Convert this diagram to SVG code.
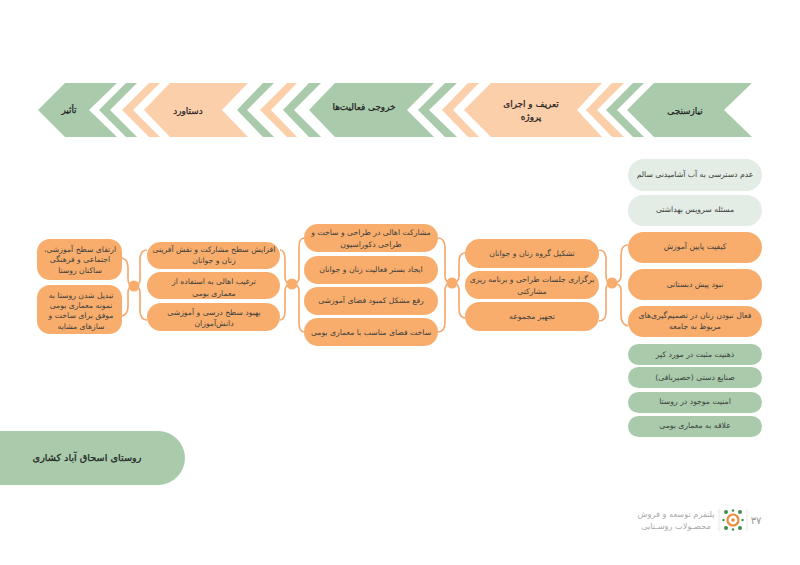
<svg xmlns="http://www.w3.org/2000/svg" width="800" height="565" viewBox="0 0 800 565">
<style>
text{font-family:"DejaVu Sans",sans-serif;text-anchor:middle;direction:rtl;fill:#3c3f3c;font-size:7.7px}
.g{fill:#a9cbab}.p{fill:#fccfab}.o{fill:#f9ad6d}.l{fill:#e4ece6}
.h{font-size:8.9px;fill:#222;stroke:#222;stroke-width:.25}
#connectors path{fill:none;stroke:#f4ab73;stroke-width:1.7}
#connectors circle{fill:#f9ad6d}
.f{fill:#a9a9a9;font-size:8.2px}
</style>
<rect width="800" height="565" fill="#fff"/>
<g id="band">
<g id="n-needs"><polygon class="g" points="752,83 654,83 627,110 654,137 752,137 724,110"/><text class="h" x="685" y="114">نیازسنجی</text></g>
<polygon class="g" points="644,83 633,83 606,110 633,137 644,137 617,110"/>
<polygon class="p" points="624,83 612,83 586,110 612,137 624,137 597,110"/>
<g id="n-project"><polygon class="p" points="602,83 491,83 464,110 491,137 602,137 577,110"/><text class="h" x="531" y="107">تعریف و اجرای</text><text class="h" x="531" y="120">پروژه</text></g>
<polygon class="p" points="479,83 468,83 442,110 468,137 479,137 453,110"/>
<polygon class="g" points="457,83 445,83 418,110 445,137 457,137 429,110"/>
<g id="n-outputs"><polygon class="g" points="434,83 335,83 309,110 335,137 434,137 407,110"/><text class="h" x="364" y="110">خروجی فعالیت‌ها</text></g>
<polygon class="g" points="321,83 309,83 283,110 309,137 321,137 294,110"/>
<polygon class="p" points="297,83 287,83 260,110 287,137 297,137 271,110"/>
<polygon class="g" points="274,83 263,83 237,110 263,137 274,137 247,110"/>
<g id="n-outcome"><polygon class="p" points="248,83 170,83 144,110 170,137 248,137 222,110"/><text class="h" x="188" y="114">دستاورد</text></g>
<polygon class="p" points="160,83 149,83 122,110 149,137 160,137 133,110"/>
<polygon class="g" points="137,83 126,83 99,110 126,137 137,137 110,110"/>
<g id="n-impact"><polygon class="g" points="117,83 65,83 38,110 65,137 117,137 89,110"/><text class="h" x="69" y="113">تأثیر</text></g>
</g>
<g id="connectors">
<path d="M628,245C622,245 621,250 621,258V276C621,281 618,283 612,283C618,283 621,285 621,290V315C621,322 623,325 628,326"/>
<path d="M599,250C604,250 606,254 606,260V276C606,281 608,283 612,283C608,283 606,285 606,290V312C606,318 604,321 599,321"/>
<path d="M465,253C460,253 459,257 459,262V276C459,281 456,283 452,283C456,283 459,285 459,290V308C459,314 460,318 465,318"/>
<path d="M438,238C443,238 445,242 445,248V276C445,281 448,283 452,283C448,283 445,285 445,290V322C445,328 443,332 438,332"/>
<path d="M304,238C300,238 299,242 299,248V277C299,282 296,284 292,284C296,284 299,286 299,291V322C299,328 300,332 304,332"/>
<path d="M280,250C284,250 285,254 285,260V277C285,282 288,284 292,284C288,284 285,286 285,291V310C285,316 284,320 280,320"/>
<path d="M147,250C142,250 140,254 140,260V279C140,284 138,286 134,286C138,286 140,288 140,293V310C140,316 142,320 147,320"/>
<path d="M122,258C126,259 128,262 128,268V279C128,284 130,286 134,286C130,286 128,288 128,293V306C128,312 126,315 122,316"/>
<circle cx="612" cy="283" r="5.5"/><circle cx="452" cy="283" r="5.5"/><circle cx="292" cy="284" r="5.5"/><circle cx="134" cy="286" r="5.5"/>
</g>
<g id="c1">
<g id="a1"><rect class="l" x="628" y="159" width="134" height="32" rx="16"/><text x="695" y="177">عدم دسترسی به آب آشامیدنی سالم</text></g>
<g id="a2"><rect class="l" x="628" y="195" width="134" height="31" rx="15.5"/><text x="695" y="212">مسئله سرویس بهداشتی</text></g>
<g id="a3"><rect class="o" x="628" y="232" width="134" height="31" rx="15.5"/><text x="695" y="249">کیفیت پایین آموزش</text></g>
<g id="a4"><rect class="o" x="628" y="269" width="134" height="31" rx="15.5"/><text x="695" y="287">نبود پیش دبستانی</text></g>
<g id="a5"><rect class="o" x="628" y="306" width="134" height="31" rx="15.5"/><text x="695" y="318">فعال نبودن زنان در تصمیم‌گیری‌های</text><text x="695" y="329">مربوط به جامعه</text></g>
<g id="a6"><rect class="g" x="628" y="344" width="134" height="21" rx="10.5"/><text x="695" y="357">ذهنیت مثبت در مورد کپر</text></g>
<g id="a7"><rect class="g" x="628" y="367" width="134" height="21" rx="10.5"/><text x="695" y="380">صنایع دستی (حصیربافی)</text></g>
<g id="a8"><rect class="g" x="628" y="392" width="134" height="21" rx="10.5"/><text x="695" y="404">امنیت موجود در روستا</text></g>
<g id="a9"><rect class="g" x="628" y="416" width="134" height="21" rx="10.5"/><text x="695" y="428">علاقه به معماری بومی</text></g>
</g>
<g id="c2">
<g id="b1"><rect class="o" x="465" y="239" width="134" height="29" rx="14.5"/><text x="532" y="256">تشکیل گروه زنان و جوانان</text></g>
<g id="b2"><rect class="o" x="465" y="271" width="134" height="28" rx="14"/><text x="532" y="282">برگزاری جلسات طراحی و برنامه ریزی</text><text x="532" y="294">مشارکتی</text></g>
<g id="b3"><rect class="o" x="465" y="302" width="134" height="29" rx="14.5"/><text x="532" y="319">تجهیز مجموعه</text></g>
</g>
<g id="c3">
<g id="d1"><rect class="o" x="304" y="224" width="134" height="28" rx="14"/><text x="371" y="235">مشارکت اهالی در طراحی و ساخت و</text><text x="371" y="247">طراحی دکوراسیون</text></g>
<g id="d2"><rect class="o" x="304" y="256" width="134" height="28" rx="14"/><text x="371" y="272">ایجاد بستر فعالیت زنان و جوانان</text></g>
<g id="d3"><rect class="o" x="304" y="287" width="134" height="28" rx="14"/><text x="371" y="303">رفع مشکل کمبود فضای آموزشی</text></g>
<g id="d4"><rect class="o" x="304" y="318" width="134" height="28" rx="14"/><text x="371" y="335">ساخت فضای مناسب با معماری بومی</text></g>
</g>
<g id="c4">
<g id="e1"><rect class="o" x="147" y="242" width="133" height="27" rx="13.5"/><text x="214" y="252">افزایش سطح مشارکت و نقش آفرینی</text><text x="214" y="263">زنان و جوانان</text></g>
<g id="e2"><rect class="o" x="147" y="272" width="133" height="27" rx="13.5"/><text x="214" y="284">ترغیب اهالی به استفاده از</text><text x="214" y="296">معماری بومی</text></g>
<g id="e3"><rect class="o" x="147" y="303" width="133" height="28" rx="14"/><text x="214" y="315">بهبود سطح درسی و آموزشی</text><text x="214" y="326">دانش‌آموزان</text></g>
</g>
<g id="c5">
<g id="f1"><rect class="o" x="37" y="239" width="85" height="41" rx="13"/><text x="80" y="252">ارتقای سطح آموزشی،</text><text x="80" y="262">اجتماعی و فرهنگی</text><text x="80" y="273">ساکنان روستا</text></g>
<g id="f2"><rect class="o" x="37" y="285" width="85" height="49" rx="13"/><text x="81" y="298">تبدیل شدن روستا به</text><text x="81" y="308">نمونه معماری بومی</text><text x="81" y="318">موفق برای ساخت و</text><text x="81" y="329">سازهای مشابه</text></g>
</g>
<g id="title"><path class="g" d="M0,431H158A27,27 0 0 1 158,485H0Z"/><text class="h" style="font-size:9.7px" x="87" y="461">روستای اسحاق آباد کشاری</text></g>
<g id="footer">
<text class="f" x="676" y="517">پلتفرم توسعه و فروش</text>
<text class="f" x="676" y="529">محصـولات روسـتایی</text>
<path d="M719,509V531M747,509V531" stroke="#ddd" stroke-width=".7"/>
<circle cx="733" cy="520" r="5.5" fill="none" stroke="#ee8a3c" stroke-width="2.2"/><circle cx="733" cy="520" r="1.8" fill="#ee8a3c"/>
<g fill="#3f8f4c"><circle cx="726" cy="512" r="2"/><circle cx="740" cy="512" r="2"/><circle cx="726" cy="528" r="2"/><circle cx="740" cy="528" r="2"/><circle cx="733" cy="510.500" r="1.200"/><circle cx="733" cy="529.500" r="1.200"/><circle cx="723.500" cy="520" r="1.200"/><circle cx="742.500" cy="520" r="1.200"/></g>
<text style="fill:#999;font-size:10px" x="756" y="524">۳۷</text>
</g>
</svg>
